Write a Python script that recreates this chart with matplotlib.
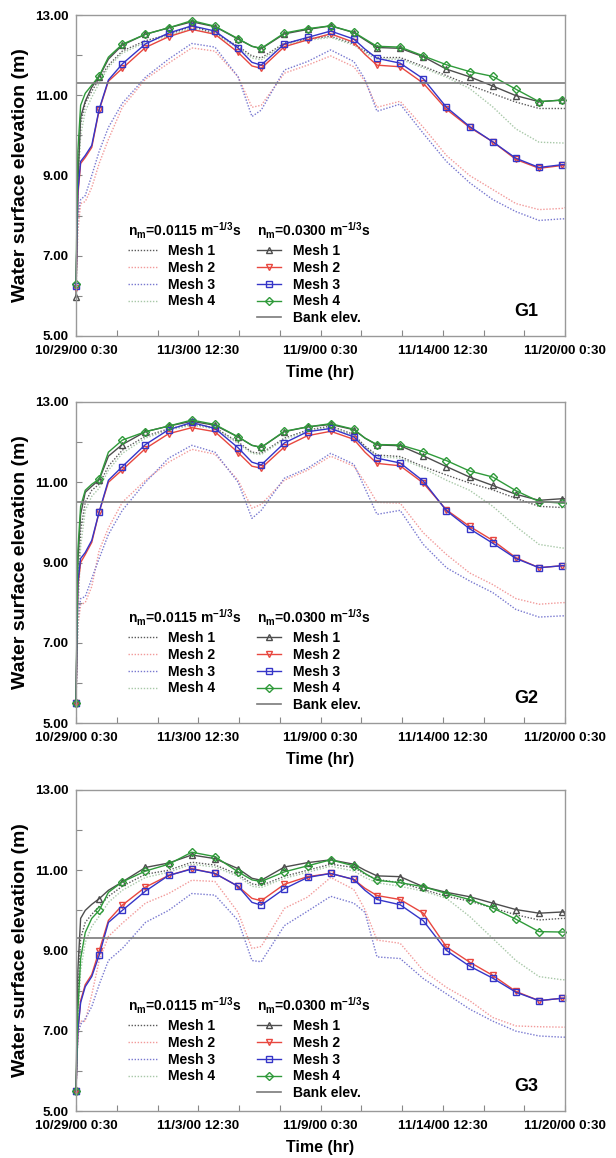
import numpy as np
import matplotlib
matplotlib.use('Agg')
import matplotlib.pyplot as plt

plt.rcParams['font.family'] = ['Liberation Sans', 'DejaVu Sans']
plt.rcParams['font.weight'] = 'bold'
plt.rcParams['mathtext.fontset'] = 'custom'
plt.rcParams['mathtext.rm'] = 'Liberation Sans:bold'
plt.rcParams['mathtext.it'] = 'Liberation Sans:bold'
plt.rcParams['mathtext.bf'] = 'Liberation Sans:bold'
plt.rcParams['mathtext.default'] = 'rm'

# hours since 10/29/00 0:30
hours = [0, 2, 5, 10, 17, 25, 35, 50, 75, 100, 125, 150, 175, 190, 200, 225, 250,
         275, 300, 312, 325, 350, 375, 400, 425, 450, 475, 500, 525, 528]

tick_hours = [0, 132, 264, 396, 528]
tick_labels = ['10/29/00 0:30', '11/3/00 12:30', '11/9/00 0:30', '11/14/00 12:30', '11/20/00 0:30']

gauges = ['G1', 'G2', 'G3']
bank_elev = [11.3, 10.5, 9.3]

# ---- G1 ----
g1_n0300_mesh1 = [5.98, 8.8, 10.45, 10.85, 11.2, 11.46, 11.9, 12.25, 12.52, 12.68, 12.83, 12.71, 12.40, 12.22, 12.16,
                  12.53, 12.64, 12.73, 12.56, 12.38, 12.19, 12.17, 11.96, 11.65, 11.46, 11.23, 10.99, 10.84, 10.88, 10.88]
g1_n0300_mesh2 = [6.2, 8.5, 9.3, 9.45, 9.7, 10.63, 11.35, 11.67, 12.19, 12.46, 12.64, 12.52, 12.07, 11.73, 11.67,
                  12.21, 12.38, 12.53, 12.32, 12.02, 11.75, 11.71, 11.30, 10.65, 10.20, 9.84, 9.40, 9.18, 9.25, 9.25]
g1_n0300_mesh3 = [6.25, 8.6, 9.35, 9.5, 9.75, 10.65, 11.38, 11.78, 12.28, 12.55, 12.73, 12.60, 12.18, 11.82, 11.75,
                  12.28, 12.44, 12.60, 12.40, 12.15, 11.92, 11.80, 11.41, 10.70, 10.22, 9.84, 9.43, 9.20, 9.27, 9.27]
g1_n0300_mesh4 = [6.3, 9.6, 10.75, 11.05, 11.25, 11.48, 11.95, 12.27, 12.52, 12.68, 12.86, 12.72, 12.41, 12.22, 12.17,
                  12.55, 12.66, 12.73, 12.57, 12.4, 12.22, 12.2, 11.98, 11.76, 11.59, 11.47, 11.15, 10.84, 10.88, 10.88]
g1_n0115_mesh1 = [6.0, 9.0, 10.3, 10.8, 11.1, 11.4, 11.75, 12.1, 12.36, 12.51, 12.72, 12.55, 12.22, 11.98, 11.93,
                  12.3, 12.40, 12.47, 12.28, 12.1, 11.94, 11.94, 11.72, 11.49, 11.25, 11.04, 10.83, 10.67, 10.67, 10.67]
g1_n0115_mesh2 = [6.1, 7.6, 8.3, 8.35, 8.7, 9.3, 9.9, 10.7, 11.4, 11.8, 12.18, 12.1, 11.46, 10.7, 10.75,
                  11.55, 11.75, 11.98, 11.71, 11.35, 10.7, 10.85, 10.2, 9.5, 9.0, 8.65, 8.3, 8.15, 8.18, 8.2]
g1_n0115_mesh3 = [6.1, 8.0, 8.4, 8.5, 9.0, 9.6, 10.2, 10.8, 11.45, 11.9, 12.29, 12.2, 11.46, 10.47, 10.63,
                  11.63, 11.84, 12.13, 11.84, 11.4, 10.6, 10.78, 10.05, 9.35, 8.82, 8.4, 8.1, 7.88, 7.92, 7.92]
g1_n0115_mesh4 = [6.0, 8.6, 10.0, 10.6, 10.95, 11.3, 11.7, 12.05, 12.32, 12.48, 12.68, 12.52, 12.18, 11.93, 11.88,
                  12.26, 12.37, 12.44, 12.25, 12.05, 11.9, 11.9, 11.68, 11.45, 11.17, 10.71, 10.16, 9.83, 9.81, 9.81]

# ---- G2 ----
g2_n0300_mesh1 = [5.5, 9.0, 10.2, 10.75, 10.9, 11.06, 11.65, 11.94, 12.26, 12.40, 12.52, 12.42, 12.13, 11.92, 11.87,
                  12.26, 12.38, 12.44, 12.31, 12.1, 11.93, 11.91, 11.66, 11.39, 11.13, 10.92, 10.70, 10.55, 10.59, 10.59]
g2_n0300_mesh2 = [5.5, 8.4, 9.0, 9.2, 9.5, 10.26, 11.0, 11.31, 11.84, 12.21, 12.36, 12.26, 11.74, 11.4, 11.35,
                  11.88, 12.16, 12.27, 12.07, 11.75, 11.47, 11.41, 10.98, 10.31, 9.90, 9.55, 9.12, 8.87, 8.92, 8.92]
g2_n0300_mesh3 = [5.5, 8.5, 9.1, 9.25, 9.55, 10.26, 11.05, 11.39, 11.94, 12.31, 12.49, 12.34, 11.86, 11.5, 11.43,
                  11.98, 12.26, 12.34, 12.13, 11.85, 11.60, 11.48, 11.03, 10.29, 9.84, 9.48, 9.10, 8.87, 8.92, 8.92]
g2_n0300_mesh4 = [5.5, 9.3, 10.4, 10.8, 10.95, 11.08, 11.75, 12.05, 12.26, 12.40, 12.55, 12.44, 12.13, 11.92, 11.87,
                  12.27, 12.38, 12.46, 12.32, 12.1, 11.94, 11.93, 11.76, 11.54, 11.28, 11.13, 10.79, 10.52, 10.48, 10.48]
g2_n0115_mesh1 = [5.5, 8.0, 9.8, 10.5, 10.8, 10.95, 11.4, 11.8, 12.15, 12.33, 12.45, 12.36, 12.0, 11.75, 11.72,
                  12.1, 12.3, 12.40, 12.19, 11.9, 11.68, 11.64, 11.39, 11.18, 10.98, 10.81, 10.6, 10.4, 10.37, 10.37]
g2_n0115_mesh2 = [5.5, 7.4, 7.95, 8.0, 8.4, 9.3, 9.86, 10.5, 11.05, 11.5, 11.82, 11.7, 11.05, 10.35, 10.45,
                  11.05, 11.3, 11.65, 11.4, 11.0, 10.5, 10.48, 9.74, 9.2, 8.74, 8.45, 8.1, 7.96, 8.0, 8.0]
g2_n0115_mesh3 = [5.5, 7.6, 8.1, 8.15, 8.6, 9.1, 9.7, 10.3, 11.0, 11.6, 11.92, 11.75, 11.0, 10.1, 10.3,
                  11.1, 11.35, 11.72, 11.45, 10.85, 10.2, 10.3, 9.45, 8.87, 8.54, 8.25, 7.83, 7.64, 7.67, 7.67]
g2_n0115_mesh4 = [5.5, 7.6, 9.4, 10.3, 10.65, 10.85, 11.3, 11.72, 12.1, 12.3, 12.42, 12.33, 11.97, 11.72, 11.69,
                  12.07, 12.27, 12.37, 12.16, 11.87, 11.64, 11.6, 11.35, 11.05, 10.8, 10.4, 9.9, 9.45, 9.36, 9.36]

# ---- G3 ----
g3_n0300_mesh1 = [5.5, 8.5, 9.8, 10.0, 10.15, 10.29, 10.5, 10.71, 11.07, 11.18, 11.38, 11.29, 11.04, 10.8, 10.75,
                  11.08, 11.19, 11.26, 11.15, 11.0, 10.86, 10.84, 10.59, 10.45, 10.34, 10.18, 10.02, 9.93, 9.96, 9.96]
g3_n0300_mesh2 = [5.5, 7.0, 7.75, 8.15, 8.4, 8.99, 9.75, 10.13, 10.58, 10.87, 11.04, 10.92, 10.6, 10.3, 10.24,
                  10.65, 10.84, 10.92, 10.77, 10.55, 10.37, 10.27, 9.93, 9.09, 8.71, 8.38, 7.98, 7.75, 7.81, 7.81]
g3_n0300_mesh3 = [5.5, 7.0, 7.7, 8.1, 8.35, 8.88, 9.7, 10.0, 10.48, 10.87, 11.03, 10.92, 10.6, 10.2, 10.13,
                  10.54, 10.82, 10.92, 10.77, 10.5, 10.27, 10.14, 9.74, 9.0, 8.61, 8.31, 7.96, 7.75, 7.81, 7.81]
g3_n0300_mesh4 = [5.5, 7.5, 8.8, 9.45, 9.8, 10.0, 10.45, 10.71, 10.98, 11.15, 11.45, 11.34, 10.96, 10.76, 10.72,
                  10.96, 11.11, 11.26, 11.11, 10.92, 10.75, 10.69, 10.59, 10.42, 10.27, 10.06, 9.78, 9.47, 9.46, 9.46]
g3_n0115_mesh1 = [5.5, 7.8, 9.3, 9.7, 9.9, 10.1, 10.35, 10.6, 10.9, 11.0, 11.2, 11.13, 10.9, 10.66, 10.62,
                  10.85, 11.0, 11.15, 11.07, 10.9, 10.77, 10.69, 10.52, 10.35, 10.23, 10.06, 9.89, 9.76, 9.8, 9.8]
g3_n0115_mesh2 = [5.5, 6.9, 7.24, 7.24, 7.9, 8.75, 9.35, 9.68, 10.18, 10.42, 10.75, 10.72, 9.95, 9.05, 9.1,
                  10.05, 10.33, 10.82, 10.52, 10.02, 9.26, 9.18, 8.5, 8.08, 7.75, 7.33, 7.12, 7.1, 7.09, 7.09]
g3_n0115_mesh3 = [5.5, 6.9, 7.16, 7.3, 7.6, 8.15, 8.75, 9.05, 9.7, 10.0, 10.42, 10.38, 9.75, 8.75, 8.72,
                  9.62, 9.98, 10.35, 10.18, 9.95, 8.84, 8.8, 8.3, 7.92, 7.54, 7.24, 6.99, 6.87, 6.84, 6.84]
g3_n0115_mesh4 = [5.5, 7.2, 8.5, 9.2, 9.6, 9.85, 10.2, 10.5, 10.82, 10.95, 11.15, 11.08, 10.85, 10.6, 10.57,
                  10.8, 10.95, 11.1, 10.98, 10.82, 10.69, 10.6, 10.48, 10.3, 9.85, 9.3, 8.75, 8.35, 8.27, 8.27]

fine = [
    [g1_n0115_mesh1, g1_n0115_mesh2, g1_n0115_mesh3, g1_n0115_mesh4],
    [g2_n0115_mesh1, g2_n0115_mesh2, g2_n0115_mesh3, g2_n0115_mesh4],
    [g3_n0115_mesh1, g3_n0115_mesh2, g3_n0115_mesh3, g3_n0115_mesh4],
]
coarse = [
    [g1_n0300_mesh1, g1_n0300_mesh2, g1_n0300_mesh3, g1_n0300_mesh4],
    [g2_n0300_mesh1, g2_n0300_mesh2, g2_n0300_mesh3, g2_n0300_mesh4],
    [g3_n0300_mesh1, g3_n0300_mesh2, g3_n0300_mesh3, g3_n0300_mesh4],
]

mesh_names = ['Mesh 1', 'Mesh 2', 'Mesh 3', 'Mesh 4']
dot_colors = ['#5a5a5a', '#f29a9a', '#7878d0', '#a8c8a8']
line_colors = ['#4d4d4d', '#e8473f', '#3535c8', '#2f9a3a']
markers = ['^', 'v', 's', 'D']
marker_sizes = [4.2, 4.2, 4.2, 3.6]

mark_idx = [i for i, h in enumerate(hours) if h % 25 == 0]


def plot_gauge(ax, name, fine_series, coarse_series, bank):
    dot_handles = []
    for vals, c, lab in zip(fine_series, dot_colors, mesh_names):
        ln, = ax.plot(hours, vals, color=c, lw=1.0, ls=(0, (1, 1.2)), label=lab)
        dot_handles.append(ln)
    mark_handles = []
    for vals, c, m, ms, lab in zip(coarse_series, line_colors, markers, marker_sizes, mesh_names):
        ln, = ax.plot(hours, vals, color=c, lw=1.0, marker=m, ms=ms, mfc='none', mec=c,
                      mew=1.0, markevery=mark_idx, clip_on=False, label=lab)
        mark_handles.append(ln)
    bank_line = ax.axhline(bank, color='#7a7a7a', lw=1.2, label='Bank elev.')
    mark_handles.append(bank_line)

    ax.set_xlim(0, 528)
    ax.set_ylim(5, 13)
    ax.set_xticks(tick_hours)
    ax.set_xticklabels(tick_labels)
    ax.set_xticks(np.arange(0, 529, 44), minor=True)
    ax.set_yticks([5, 7, 9, 11, 13])
    ax.set_yticklabels(['%.2f' % v for v in [5, 7, 9, 11, 13]])
    ax.set_yticks(np.arange(5, 14, 1), minor=True)
    ax.tick_params(which='both', direction='in', length=4, color='#888888', width=0.8,
                   top=False, right=False)
    ax.tick_params(axis='y', labelsize=9.6, pad=5.5)
    ax.tick_params(axis='x', labelsize=9.6, pad=6.5)
    for sp in ax.spines.values():
        sp.set_color('#999999')
        sp.set_linewidth(1.0)

    ax.set_ylabel('Water surface elevation (m)', fontsize=14, fontweight='bold')
    ax.yaxis.set_label_coords(-0.097, 0.5)
    ax.set_xlabel('Time (hr)', fontsize=11.5, fontweight='bold')
    ax.xaxis.set_label_coords(0.5, -0.09)

    leg1 = ax.legend(dot_handles, mesh_names, title=r'n$_{m}$=0.0115 m$^{-1/3}$s',
                     loc='upper left', bbox_to_anchor=(0.092, 0.38), frameon=False,
                     fontsize=10, title_fontsize=10, alignment='left', borderpad=0,
                     labelspacing=0.2, handlelength=2.1, handletextpad=0.8)
    ax.add_artist(leg1)
    ax.legend(mark_handles, mesh_names + ['Bank elev.'], title=r'n$_{m}$=0.0300 m$^{-1/3}$s',
              loc='upper left', bbox_to_anchor=(0.356, 0.38), frameon=False,
              fontsize=10, title_fontsize=10, alignment='left', borderpad=0,
              labelspacing=0.2, handlelength=1.7, handletextpad=0.9)

    ax.text(0.92, 0.075, name, transform=ax.transAxes, fontsize=13, fontweight='bold',
            ha='center', va='center')


fig = plt.figure(figsize=(6.16, 11.58), dpi=100)
W, H = 616.0, 1158.0
panel_tops = [15, 402, 790]
for k in range(3):
    top = panel_tops[k]
    ax = fig.add_axes([76 / W, 1 - (top + 321) / H, 489 / W, 321 / H])
    plot_gauge(ax, gauges[k], fine[k], coarse[k], bank_elev[k])

fig.savefig('out.png', dpi=100)
